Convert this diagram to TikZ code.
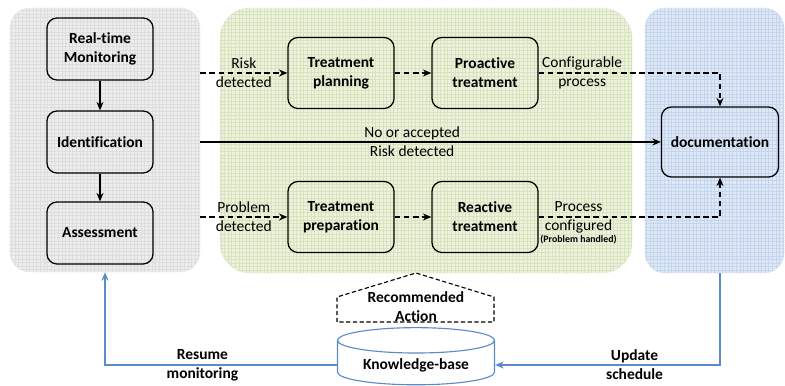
\documentclass[tikz,border=0pt]{standalone}
\usepackage{fontspec}
\setmainfont[Ligatures=NoCommon]{Carlito}
\usepackage{tikz}
\usetikzlibrary{arrows.meta,shapes.geometric}

\definecolor{grayfill}{RGB}{237,237,237}
\definecolor{graygrid}{RGB}{221,221,221}
\definecolor{greenfill}{RGB}{236,242,222}
\definecolor{greengrid}{RGB}{214,227,188}
\definecolor{bluefill}{RGB}{223,232,244}
\definecolor{bluegrid}{RGB}{196,213,238}
\definecolor{kbblue}{RGB}{91,139,200}

\begin{document}
\begin{tikzpicture}[x=0.025cm,y=-0.025cm,
    font=\fontsize{11}{13.5}\selectfont,
    panel/.style={draw=#1grid, densely dotted, fill=#1fill, rounded corners=0.5cm,
        path picture={\draw[#1grid, very thin, solid, step=0.09cm]
            (path picture bounding box.south west) grid (path picture bounding box.north east);}},
    box/.style={draw, line width=0.9pt, rounded corners=0.25cm, align=center,
        font=\fontsize{11}{13.5}\selectfont\bfseries, minimum width=2.65cm, minimum height=1.55cm},
    flow/.style={-{Stealth[length=6pt,width=5pt]}, line width=0.8pt},
    dflow/.style={flow, dash pattern=on 4pt off 2.5pt},
    kbflow/.style={-{Stealth[length=6pt,width=5pt]}, kbblue, line width=0.8pt},
    lbl/.style={align=center, inner sep=1pt, text=black},
    blbl/.style={lbl, font=\fontsize{11}{13.5}\selectfont\bfseries}]
    \useasboundingbox (0,0) rectangle (785,386);
    % group panels
    \node[panel=gray, minimum width=4.75cm, minimum height=6.6cm] (leftp) at (105,140) {};
    \node[panel=green, rounded corners=0.75cm, minimum width=10.3cm, minimum height=6.625cm] (midp) at (426,140.5) {};
    \node[panel=blue, minimum width=3.475cm, minimum height=6.625cm] (rightp) at (714.5,140.5) {};
    % steps
    \node[box] (mon) at (100,49) {Real-time\\Monitoring};
    \node[box] (ident) at (100,142) {Identification};
    \node[box] (assess) at (100,233) {Assessment};
    \node[box, minimum height=1.775cm] (plan) at (341,73) {Treatment\\planning};
    \node[box, minimum height=1.775cm] (proact) at (485,73) {Proactive\\treatment};
    \node[box, minimum height=1.775cm] (prep) at (341,217) {Treatment\\preparation};
    \node[box, minimum height=1.775cm] (react) at (485,217) {Reactive\\treatment};
    \node[box, minimum width=2.925cm, minimum height=1.75cm] (doc) at (720,142) {documentation};
    \node[cylinder, shape border rotate=90, aspect=0.22, draw=kbblue, fill=white, line width=0.8pt,
        minimum width=3.925cm, minimum height=1.3cm, font=\fontsize{11}{13.5}\selectfont\bfseries] (kb) at (416,365) {Knowledge-base};
    \node[blbl] (rec) at (416,307) {Recommended\\Action};
    \draw[dash pattern=on 3pt off 1.8pt, line width=0.8pt] (337,322) -- (337,297) -- (416,273) -- (494,297) -- (494,322) -- cycle;
    % flows
    \draw[flow] (mon) -- (ident);
    \draw[flow] (ident) -- (assess);
    \draw[dflow] (leftp.east |- plan) -- node[lbl] {Risk\\detected} (plan);
    \draw[dflow] (plan) -- (proact);
    \draw[dflow] (proact) -| node[lbl, pos=0.12] {Configurable\\process} (doc);
    \draw[flow] (leftp.east |- ident) -- node[lbl, pos=0.46] {No or accepted\\Risk detected} (doc);
    \draw[dflow] (leftp.east |- prep) -- node[lbl] {Problem\\detected} (prep);
    \draw[dflow] (prep) -- (react);
    \draw[dflow] (react) -| node[lbl, pos=0.11] (pconf) {Process\\configured} (doc);
    \node[font=\fontsize{7}{8}\selectfont\bfseries, inner sep=0pt, anchor=north] (handled) at (pconf.south) {(Problem handled)};
    \draw[kbflow] (doc.south |- rightp.south) |- node[blbl, pos=0.69] {Update\\schedule} (kb.east);
    \draw[kbflow] (kb.west) -| node[blbl, pos=0.29] {Resume\\monitoring} (leftp.south);
\end{tikzpicture}
\end{document}
